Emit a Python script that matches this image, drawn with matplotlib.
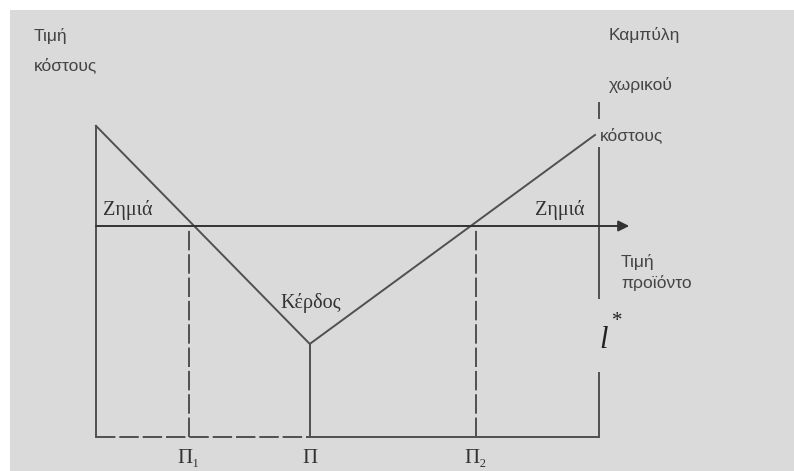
import matplotlib
matplotlib.use("Agg")
import matplotlib.pyplot as plt
from matplotlib.patches import Rectangle

# diagram values (distance along the x axis, cost/price on the y axis, 0..100)
cost_x = [0, 42.5, 99.2]          # spatial cost curve: left end, minimum, right end
cost_y = [92.6, 27.7, 89.9]
price = 62.8                      # product price level
p1, p_min, p2 = 18.5, 42.5, 75.5  # Π1, Π, Π2
edge = 100                        # distance limit l*
edge_segments = [(99.4, 94.9), (86.0, 41.4), (19.0, 0)]
tick_labels = ["Π₁", "Π", "Π₂"]

line_col = "#505050"
sans = ["Liberation Sans", "DejaVu Sans"]
serif = ["Liberation Serif", "DejaVu Serif"]

fig = plt.figure(figsize=(7.94, 4.71), dpi=100)
fig.patches.append(Rectangle((10 / 794, 0), 1, 461 / 471, transform=fig.transFigure,
                             facecolor="#dadada", edgecolor="none", zorder=-10))

ax = fig.add_axes([96 / 794, 34 / 471, 503 / 794, 336 / 471])
ax.set_xlim(0, 100)
ax.set_ylim(0, 100)
ax.axis("off")
ax.patch.set_alpha(0)

lw = 1.4
dash = (0, (10, 2))
# left vertical axis and bottom axis
ax.plot([0, 0], [0, cost_y[0]], color=line_col, lw=lw, clip_on=False)
ax.plot([0, p_min], [0, 0], color=line_col, lw=lw, ls=dash, clip_on=False)
ax.plot([p_min, edge], [0, 0], color=line_col, lw=lw, clip_on=False)

# right vertical line with gaps
for top, bot in edge_segments:
    ax.plot([edge, edge], [bot, top], color=line_col, lw=lw, clip_on=False)

# price line with arrow
ax.annotate("", xy=(106, price), xytext=(0, price),
            arrowprops=dict(arrowstyle="-|>", color="#333333", lw=lw,
                            mutation_scale=16, shrinkA=0, shrinkB=0),
            annotation_clip=False)

# spatial cost curve
ax.plot(cost_x, cost_y, color=line_col, lw=lw, clip_on=False)

# vertical lines at Π1, Π, Π2
ax.plot([p1, p1], [0, price], color=line_col, lw=lw, ls=dash)
ax.plot([p_min, p_min], [0, cost_y[1]], color=line_col, lw=lw)
ax.plot([p2, p2], [0, price], color=line_col, lw=lw, ls=dash)

for x, lab in zip([p1, p_min, p2], tick_labels):
    ax.text(x, -6.3, lab, ha="center", va="center", fontsize=15,
            family=serif, color="#333333", clip_on=False)

# labels
ax.text(1.3, 67.5, "Ζημιά", fontsize=14.5, family=serif, color="#333333",
        ha="left", va="center")
ax.text(87.3, 67.5, "Ζημιά", fontsize=14.5, family=serif, color="#333333",
        ha="left", va="center")
ax.text(36.6, 39.8, "Κέρδος", fontsize=14.5, family=serif, color="#333333",
        ha="left", va="center")

fs = 12.5
fig.text(34 / 794, 1 - 36 / 471, "Τιμή", fontsize=fs, family=sans,
         color="#444444", va="center")
fig.text(34 / 794, 1 - 65 / 471, "κόστους", fontsize=fs, family=sans,
         color="#444444", va="center")
fig.text(609 / 794, 1 - 35 / 471, "Καμπύλη", fontsize=fs, family=sans,
         color="#444444", va="center")
fig.text(609 / 794, 1 - 85 / 471, "χωρικού", fontsize=fs, family=sans,
         color="#444444", va="center")
fig.text(600 / 794, 1 - 135 / 471, "κόστους", fontsize=fs, family=sans,
         color="#444444", va="center")
fig.text(621 / 794, 1 - 262 / 471, "Τιμή", fontsize=fs, family=sans,
         color="#444444", va="center")
fig.text(621 / 794, 1 - 283 / 471, "προϊόντο", fontsize=fs, family=sans,
         color="#444444", va="center")
fig.text(599 / 794, 1 - 340 / 471, "l", fontsize=22, family=serif,
         style="italic", color="#222222", va="center")
fig.text(612 / 794, 1 - 322 / 471, "*", fontsize=15, family=serif,
         color="#222222", va="center")

fig.savefig("out.png", dpi=100)
